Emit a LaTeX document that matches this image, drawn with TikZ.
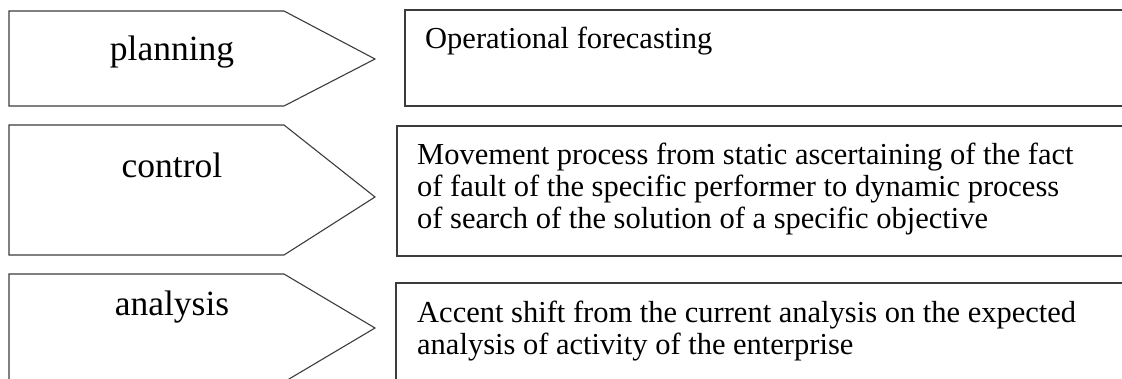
\documentclass[tikz,border=0pt]{standalone}
\usepackage{fontspec}
\setmainfont{Liberation Serif}
\definecolor{edgeline}{HTML}{3C3C3C}
\tikzset{
  stage/.style={draw=edgeline, line width=1.1pt, line join=miter},
  textbox/.style={draw=edgeline, line width=1.1pt},
  stagelabel/.style={font=\fontsize{35.5}{40}\selectfont, inner sep=0pt, anchor=base},
  boxtext/.style={font=\fontsize{30.5}{32}\selectfont, inner sep=0pt,
                  align=left, anchor=base west},
}

\begin{document}
\begin{tikzpicture}[x=1pt, y=-1pt]
    \clip (0,0) rectangle (1122,378);
    % left arrow shapes
    \draw[stage] (9,11) -- (284,11) -- (375,59) -- (284,106) -- (9,106) -- cycle;
    \draw[stage] (9,125) -- (284,125) -- (375,197) -- (284,255) -- (9,255) -- cycle;
    \draw[stage] (9,274) -- (284,274) -- (375,328) -- (284,382) -- (9,382) -- cycle;
    \node[stagelabel] (planning) at (172,60) {planning};
    \node[stagelabel] (control) at (172,177) {control};
    \node[stagelabel] (analysis) at (172,315) {analysis};
    % right text boxes
    \draw[textbox] (405,10) rectangle (1135,106);
    \draw[textbox] (397,126) rectangle (1135,256);
    \draw[textbox] (396,283) rectangle (1135,395);
    \node[boxtext] (forecast) at (425,48) {Operational forecasting};
    % base anchor sits on the last line here
    \node[boxtext] (movement) at (417,228) {Movement process from static ascertaining of the fact\\
      of fault of the specific performer to dynamic process\\
      of search of the solution of a specific objective};
    \node[boxtext] (accent) at (417,354) {Accent shift from the current analysis on the expected\\
      analysis of activity of the enterprise};
\end{tikzpicture}
\end{document}
